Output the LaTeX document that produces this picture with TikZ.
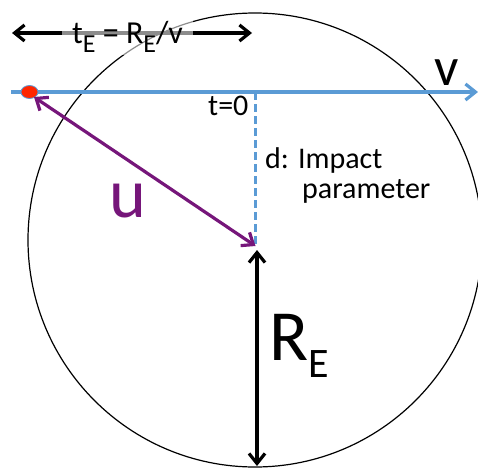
\documentclass[tikz,border=0pt]{standalone}
\usepackage{fontspec}
\setmainfont{Carlito}
\usetikzlibrary{arrows.meta,shapes.geometric}
\definecolor{lineblue}{RGB}{91,155,213}
\definecolor{upurple}{RGB}{118,22,122}
\definecolor{dotred}{RGB}{255,38,0}
\newcommand\txtsize{\fontsize{30}{33}\selectfont}
\newcommand\topsize{\fontsize{32}{35}\selectfont}
\newcommand\subsize{\fontsize{26}{28}\selectfont}
\newcommand\bigsize{\fontsize{72}{76}\selectfont}
\newcommand\bigsub{\fontsize{42}{44}\selectfont}
\begin{document}
\begin{tikzpicture}[x=1pt,y=-1pt,
  barb/.style={>={Straight Barb[length=10pt,width=16pt]}},
  vec/.style={line width=3.2pt,barb},
  lbl/.style={anchor=base west,inner sep=0pt,font=\txtsize}]
\useasboundingbox (0,0) rectangle (478,468);
% orbit circle
\draw[line width=1.2pt] (255,240) circle[radius=227];
% coordinates
\coordinate (ls) at (11,92);
\coordinate (le) at (478,92);
\coordinate (t0) at (255.5,92);
\coordinate (cp) at (255.5,246);
\coordinate (rt) at (257,250);
\coordinate (rb) at (257,466);
\coordinate (tl) at (12,33);
\coordinate (tr) at (252,33);
% source path
\draw[vec,lineblue,->] (ls) -- (le);
\draw[line width=3.2pt,lineblue,dash pattern=on 8pt off 4pt] (t0) -- (cp);
% red dot
\node[ellipse,minimum width=17pt,minimum height=13pt,inner sep=0pt,fill=dotred,draw=lineblue,line width=0.8pt] (dot) at (29.5,92) {};
% u vector
\draw[vec,upurple,<->] (34,97) -- (cp);
% R_E arrow
\draw[vec,black,<->] (rt) -- (rb);
% t_E arrow
\draw[vec,black,<->] (tl) -- (tr);
\node[anchor=base west,inner xsep=10pt,inner ysep=2pt,fill=white,fill opacity=0.55,text opacity=1,font=\topsize] (te) at (62,44)
  {t\raisebox{-0.27em}{\subsize E} = R\raisebox{-0.27em}{\subsize E}/v};
% labels
\node[lbl] (tz) at (208,115) {t=0};
\node[lbl] (d1) at (265,168) {d: Impact};
\node[lbl] (d2) at (302,198) {parameter};
\node[anchor=base west,inner sep=0pt,font=\fontsize{54}{56}\selectfont] (v) at (434,85) {v};
\node[anchor=base west,inner sep=0pt,font=\fontsize{70}{72}\selectfont,text=upurple] (u) at (109,217) {u};
\node[anchor=base west,inner sep=0pt,font=\bigsize] (re) at (269,360) {R\raisebox{-0.24em}{\bigsub E}};
\end{tikzpicture}
\end{document}
